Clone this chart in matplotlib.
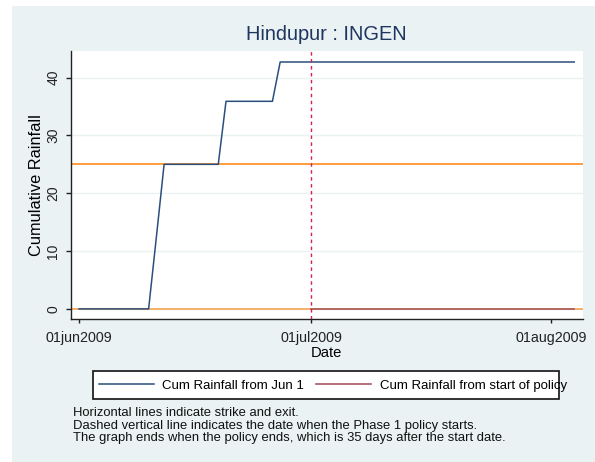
#!/usr/bin/env python3

import pandas as pd
import matplotlib
matplotlib.use("Agg")
import matplotlib.pyplot as plt
import matplotlib.dates as mdates
from matplotlib.patches import Rectangle
from matplotlib.ticker import FuncFormatter

plt.rcParams['font.family'] = ['Liberation Sans', 'DejaVu Sans']

# data
title = "Hindupur : INGEN"
jun1_dates = ["2009-06-01", "2009-06-10", "2009-06-11", "2009-06-12", "2009-06-19",
              "2009-06-20", "2009-06-26", "2009-06-27", "2009-08-04"]
jun1_rain = [0, 0, 12.4, 25.0, 25.0, 35.9, 35.9, 42.7, 42.7]
policy_dates = ["2009-07-01", "2009-08-04"]
policy_rain = [0, 0]
strike = 25
exit_level = 0
policy_start = "2009-07-01"
xtick_dates = ["2009-06-01", "2009-07-01", "2009-08-01"]
yticks = [0, 10, 20, 30, 40]
series_labels = ["Cum Rainfall from Jun 1", "Cum Rainfall from start of policy"]
notes = ["Horizontal lines indicate strike and exit.",
         "Dashed vertical line indicates the date when the Phase 1 policy starts.",
         "The graph ends when the policy ends, which is 35 days after the start date."]

W, H = 595, 462
BG = "#EAF2F3"
BLUE = "#2A4F7C"
RED = "#A85A60"
ORANGE = "#FF8A1C"
ORANGE_LIGHT = "#F7A455"


def fx(px):
    return px / W


def fy(py):
    return 1 - py / H


def main():
    fig = plt.figure(figsize=(W / 100, H / 100), dpi=100)
    fig.patch.set_facecolor("white")
    # Stata style light background, white strip at top/left
    fig.add_artist(Rectangle((fx(12), 0), 1, fy(6), transform=fig.transFigure,
                             facecolor=BG, edgecolor="none", zorder=-2))

    ax = fig.add_axes([fx(70.7), fy(319.3), fx(582.5) - fx(70.7), fy(51) - fy(319.3)])
    ax.set_facecolor("white")

    d1 = pd.to_datetime(jun1_dates)
    d2 = pd.to_datetime(policy_dates)
    start = pd.Timestamp(policy_start)
    base = pd.Timestamp("2009-06-01")

    for y in yticks:
        ax.axhline(y, color=BG, lw=1.0, zorder=0)

    ax.axhline(strike, color=ORANGE, lw=1.2, zorder=1)
    ax.axhline(exit_level, color=ORANGE_LIGHT, lw=1.2, zorder=1)
    l1, = ax.plot(d1, jun1_rain, color=BLUE, lw=1.1, zorder=3, label=series_labels[0])
    l2, = ax.plot(d2, policy_rain, color=RED, lw=1.2, zorder=3, label=series_labels[1])
    ax.axvline(start, color="#D4204A", lw=1.0, ls=(0, (2.5, 2.5)), zorder=4)

    ax.set_xlim(base - pd.Timedelta(days=1.07), base + pd.Timedelta(days=65.07))
    ax.set_ylim(-1.8, 44.6)

    ax.set_xticks(pd.to_datetime(xtick_dates))
    ax.xaxis.set_major_formatter(FuncFormatter(
        lambda v, p: mdates.num2date(v).strftime("%d%b%Y").lower()))
    ax.set_yticks(yticks)

    for s in ["top", "right"]:
        ax.spines[s].set_visible(False)
    for s in ["left", "bottom"]:
        ax.spines[s].set_color("#222222")
        ax.spines[s].set_linewidth(1.0)

    ax.tick_params(axis="x", length=3, width=1, pad=5.5, labelsize=10.3, colors="#222222")
    ax.tick_params(axis="y", length=3.6, width=1, pad=4, labelsize=10, colors="#222222")
    for lab in ax.get_yticklabels():
        lab.set_rotation(90)
        lab.set_va("center")

    ax.set_xlabel("Date", fontsize=10.6, labelpad=0.5)
    ax.set_ylabel("Cumulative Rainfall", fontsize=11.8, labelpad=1.5)
    fig.text(fx(326.5), fy(35), title, ha="center", va="center",
             fontsize=14.4, color="#1E3560")

    # legend box, Stata lets the text run over it
    fig.add_artist(Rectangle((fx(92.7), fy(399)), fx(559) - fx(92.7), fy(371) - fy(399),
                             transform=fig.transFigure, facecolor="white",
                             edgecolor="#111111", lw=1.2, zorder=1))
    fig.legend(handles=[l1, l2], loc="center left", ncol=2,
               bbox_to_anchor=(fx(98.7), fy(385.5)), bbox_transform=fig.transFigure,
               frameon=False, fontsize=9.5, borderpad=0, borderaxespad=0,
               handlelength=4.17, handletextpad=0.66, columnspacing=0.9)

    for i, line in enumerate(notes):
        fig.text(fx(72.7), fy(413.5 + 12 * i), line, ha="left", va="center",
                 fontsize=9.4, color="#111111")

    fig.savefig("out.png", dpi=100)


if __name__ == "__main__":
    main()
